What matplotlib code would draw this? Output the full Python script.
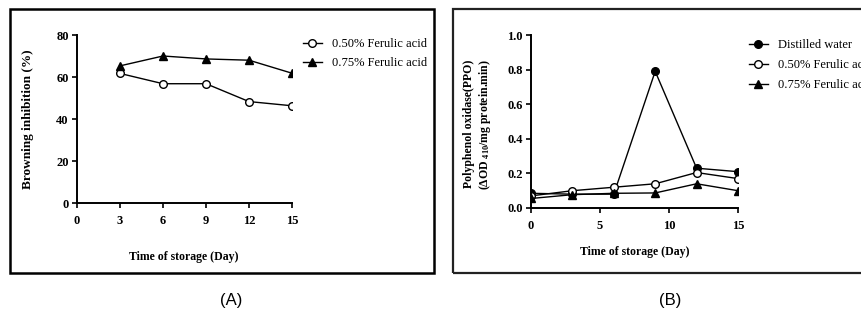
import matplotlib

matplotlib.use("Agg")
import matplotlib.pyplot as plt
from matplotlib.patches import Rectangle

# panel A: browning inhibition
days_a = [3, 6, 9, 12, 15]
inhib_050 = [61.7, 56.8, 56.8, 48.3, 46.3]
inhib_075 = [65.3, 70.0, 68.6, 68.0, 61.8]

# panel B: PPO activity
days_b = [0, 3, 6, 9, 12, 15]
ppo_water = [0.085, 0.08, 0.08, 0.79, 0.23, 0.21]
ppo_050 = [0.07, 0.10, 0.12, 0.14, 0.205, 0.17]
ppo_075 = [0.055, 0.077, 0.085, 0.087, 0.14, 0.10]

W, H = 862, 320
SERIF = ["Liberation Serif", "DejaVu Serif"]
plt.rcParams["font.family"] = SERIF
plt.rcParams["mathtext.default"] = "regular"


def fx(px):
    return px / W


def fy(py):
    return 1 - py / H


def style_axes(ax):
    for side in ("top", "right"):
        ax.spines[side].set_visible(False)
    for side in ("left", "bottom"):
        ax.spines[side].set_linewidth(1.4)
    ax.tick_params(direction="out", length=3.5, width=1.2, pad=2.5, labelsize=9)
    for lab in ax.get_xticklabels() + ax.get_yticklabels():
        lab.set_fontweight("bold")


fig = plt.figure(figsize=(W / 100, H / 100), dpi=100)

# frames round each panel
fig.patches.append(Rectangle((fx(10), fy(273)), fx(424), 264 / H, transform=fig.transFigure,
                             fill=False, edgecolor="black", linewidth=1.8))
fig.patches.append(Rectangle((fx(453), fy(273)), fx(430), 264 / H, transform=fig.transFigure,
                             fill=False, edgecolor="#222222", linewidth=1.6))

line_kw = dict(color="black", linewidth=1.0, markersize=5.5, markeredgewidth=1.0)

# ---- panel A
ax_a = fig.add_axes([fx(77), fy(203), fx(292 - 77), (203 - 35) / H])
ax_a.plot(days_a, inhib_050, marker="o", markerfacecolor="white", label="0.50% Ferulic acid", **line_kw)
ax_a.plot(days_a, inhib_075, marker="^", markerfacecolor="black", label="0.75% Ferulic acid", **line_kw)
ax_a.set_xlim(0, 15)
ax_a.set_ylim(0, 80)
ax_a.set_xticks([0, 3, 6, 9, 12, 15])
ax_a.set_yticks([0, 20, 40, 60, 80])
style_axes(ax_a)
ax_a.tick_params(axis="x", pad=5)
fig.text(fx(28), fy(119), "Browning inhibition (%)", rotation=90, ha="center", va="center",
         fontsize=9.5, fontweight="bold")
fig.text(fx(184), fy(257), "Time of storage (Day)", ha="center", va="center",
         fontsize=8.5, fontweight="bold")
fig.legend(handles=ax_a.get_lines(), loc="upper left", bbox_to_anchor=(fx(303), fy(38)),
           frameon=False, fontsize=9, borderpad=0, borderaxespad=0, handlelength=1.5,
           handletextpad=0.8, labelspacing=0.55)

# ---- panel B
ax_b = fig.add_axes([fx(531), fy(208), fx(738 - 531), (208 - 35) / H])
ax_b.plot(days_b, ppo_water, marker="o", markerfacecolor="black", label="Distilled water", **line_kw)
ax_b.plot(days_b, ppo_050, marker="o", markerfacecolor="white", label="0.50% Ferulic acid", **line_kw)
ax_b.plot(days_b, ppo_075, marker="^", markerfacecolor="black", label="0.75% Ferulic acid", **line_kw)
ax_b.set_xlim(0, 15)
ax_b.set_ylim(0, 1.0)
ax_b.set_xticks([0, 5, 10, 15])
ax_b.set_yticks([0.0, 0.2, 0.4, 0.6, 0.8, 1.0])
ax_b.set_yticklabels(["0.0", "0.2", "0.4", "0.6", "0.8", "1.0"])
ax_b.set_xticklabels(["0", "5", "10", "15"])
style_axes(ax_b)
ax_b.tick_params(axis="x", pad=5)
fig.text(fx(469), fy(124), "Polyphenol oxidase(PPO)", rotation=90, ha="center", va="center",
         fontsize=8.5, fontweight="bold")
fig.text(fx(485), fy(124), "(ΔOD $_{410}$/mg protein.min)", rotation=90, ha="center", va="center",
         fontsize=8.5, fontweight="bold")
fig.text(fx(635), fy(252), "Time of storage (Day)", ha="center", va="center",
         fontsize=8.5, fontweight="bold")
fig.legend(handles=ax_b.get_lines(), loc="upper left", bbox_to_anchor=(fx(749), fy(39)),
           frameon=False, fontsize=9, borderpad=0, borderaxespad=0, handlelength=1.5,
           handletextpad=0.8, labelspacing=0.65)

# panel captions
fig.text(fx(231), fy(301), "(A)", ha="center", va="center", fontsize=12,
         family=["Liberation Sans", "DejaVu Sans"])
fig.text(fx(670), fy(301), "(B)", ha="center", va="center", fontsize=12,
         family=["Liberation Sans", "DejaVu Sans"])

fig.savefig("out.png", dpi=100)
